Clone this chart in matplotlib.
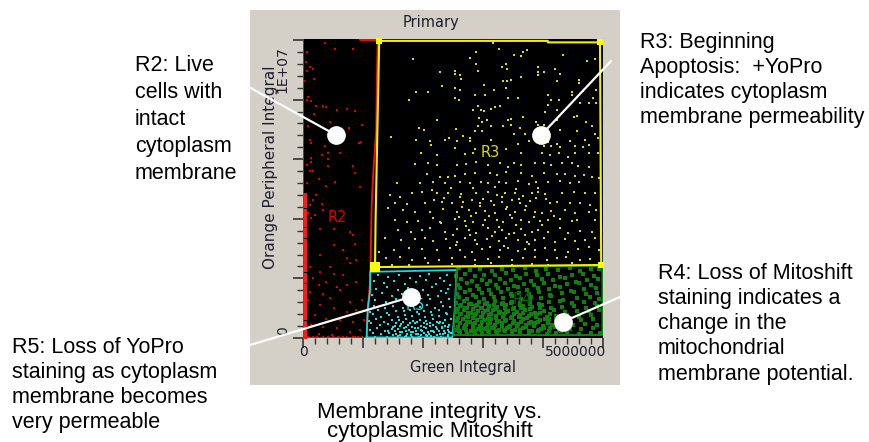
import matplotlib.pyplot as plt
from matplotlib.patches import Rectangle
from matplotlib.ticker import MultipleLocator

plt.rcParams['font.family'] = ['Liberation Sans', 'DejaVu Sans']

# Green Integral in millions (x), Orange Peripheral Integral in millions (y)

# R2 - red gate events
r2_points = [
    (0.37, 9.90), (0.54, 9.71), (0.84, 9.71), (0.07, 9.60), (0.05, 9.26), (0.12, 9.09), (0.16, 9.04),
    (0.06, 8.95), (0.19, 8.70), (0.02, 8.62), (0.09, 8.09), (0.06, 8.00), (0.14, 7.94), (0.22, 7.78),
    (0.34, 7.80), (0.39, 7.75), (0.57, 7.66), (0.74, 7.70), (0.87, 7.61), (0.18, 7.50), (0.99, 7.16),
    (0.45, 7.25), (0.77, 7.05), (0.09, 7.10), (0.12, 6.66), (0.14, 6.55), (0.96, 6.58), (0.94, 6.55),
    (0.37, 6.43), (0.42, 6.21), (0.62, 6.21), (0.31, 6.15), (0.14, 6.04), (0.42, 5.99), (0.14, 5.91),
    (0.06, 5.82), (0.84, 5.76), (0.42, 5.76), (0.12, 5.59), (0.17, 5.59), (0.87, 5.54), (0.26, 5.35),
    (0.53, 5.24), (0.06, 5.20), (0.39, 5.11), (0.95, 5.06),
    (0.22, 4.79), (0.17, 4.63), (0.12, 4.46), (0.31, 4.51), (0.34, 4.29), (0.09, 4.18), (0.20, 4.12),
    (0.14, 4.01), (0.28, 3.65), (0.51, 3.65), (0.78, 3.56), (0.84, 3.47), (0.87, 3.14), (0.51, 3.12),
    (0.67, 2.95), (0.28, 2.78), (0.73, 2.67), (0.89, 2.61), (0.12, 2.39), (0.45, 2.39), (0.78, 2.50),
    (0.28, 2.22), (0.51, 2.16), (0.67, 2.11), (0.17, 2.00), (0.39, 1.89), (0.26, 1.77), (0.56, 1.72),
    (0.73, 1.77), (0.89, 1.89), (0.12, 1.55), (0.34, 1.49), (0.62, 1.61), (0.45, 1.33), (0.78, 1.21),
    (0.98, 1.27), (0.09, 1.27), (0.28, 1.10), (0.51, 0.99), (0.73, 0.88), (0.89, 0.93), (0.20, 0.77),
    (0.39, 0.65), (0.62, 0.60), (0.84, 0.54), (1.01, 0.60), (0.14, 0.43), (0.34, 0.37), (0.56, 0.32),
    (0.78, 0.21), (0.95, 0.26), (0.26, 0.15), (0.48, 0.09), (0.67, 0.04), (0.87, 0.04),
]
# events piled up on the left edge and along the bottom of R2
r2_edge_y = [0.05, 0.18, 0.27, 0.41, 0.52, 0.66, 0.74, 0.88, 1.02, 1.13, 1.29, 1.37, 1.52, 1.66,
             1.74, 1.90, 2.03, 2.12, 2.28, 2.41, 2.50, 2.66, 2.79, 2.87, 3.02, 3.16, 3.25, 3.41,
             3.53, 3.64, 3.80, 3.91, 4.05, 4.18, 4.27, 4.43, 4.56, 4.68, 4.81]
r2_floor_x = [0.08, 0.17, 0.24, 0.33, 0.41, 0.50, 0.58, 0.66, 0.74, 0.83, 0.91, 0.99]

# R3 - yellow gate events
r3_points = [
    (3.17, 9.90), (3.27, 9.70), (2.89, 9.60), (3.74, 9.66), (3.67, 9.60), (3.52, 9.51), (3.64, 9.45),
    (4.34, 9.51), (1.84, 9.37), (2.79, 9.40), (4.87, 9.37), (4.74, 9.31), (2.89, 9.20), (3.39, 9.20),
    (3.32, 9.09), (3.40, 9.04), (3.91, 9.10), (4.20, 9.01), (2.29, 8.92), (2.54, 8.95), (2.54, 8.86),
    (2.62, 8.82), (2.64, 8.70), (2.92, 8.95), (3.92, 8.92), (4.02, 8.92), (3.91, 8.81), (4.29, 8.86),
    (3.64, 8.75), (3.33, 8.62), (3.40, 8.64), (3.46, 8.65), (4.24, 8.62), (4.60, 8.65), (4.60, 8.56),
    (3.01, 8.49), (2.31, 8.45), (2.54, 8.39), (2.61, 8.31), (3.39, 8.39), (1.89, 8.26), (2.09, 8.26),
    (3.19, 8.31), (4.49, 8.26), (4.49, 8.17), (4.67, 8.28), (4.88, 8.31), (4.09, 8.15), (2.87, 8.15),
    (3.03, 8.15), (2.53, 8.06), (2.60, 8.00), (3.42, 8.06), (3.59, 8.06), (1.77, 8.00), (4.13, 8.00),
    (4.26, 8.00), (4.84, 8.06), (4.77, 7.87), (4.88, 7.87), (4.62, 7.87), (2.92, 7.80), (4.09, 7.83),
    (3.20, 7.75), (3.28, 7.80), (2.96, 7.66), (3.14, 7.69), (3.02, 7.61), (2.84, 7.66), (4.23, 7.66),
    (4.03, 7.59), (2.24, 7.31), (2.93, 7.38), (2.98, 7.25), (3.06, 7.31), (3.46, 7.35), (3.41, 7.31),
    (3.67, 7.42), (3.89, 7.25), (4.24, 7.31), (4.51, 7.41), (4.57, 7.46), (4.71, 7.25), (3.14, 7.13),
    (2.92, 7.10), (3.34, 7.10), (3.47, 7.16), (3.91, 7.14), (4.01, 7.14), (1.94, 7.05), (2.02, 6.99),
    (2.55, 7.02), (2.87, 6.94), (2.98, 6.96), (3.62, 7.05), (3.52, 6.85), (3.70, 6.83), (4.28, 6.99),
    (4.56, 6.94), (4.81, 7.10), (4.87, 6.85), (1.47, 6.75), (1.89, 6.66), (2.12, 6.60), (2.37, 6.66),
    (2.43, 6.71), (2.56, 6.62), (2.66, 6.77), (2.78, 6.71), (2.79, 6.60), (3.14, 6.66), (3.59, 6.51),
    (3.76, 6.60), (4.09, 6.58), (4.23, 6.51), (4.45, 6.60), (4.70, 6.66), (4.91, 6.71), (2.14, 6.47),
    (2.53, 6.38), (4.53, 6.43), (4.66, 6.40), (4.76, 6.47), (2.87, 6.34), (3.39, 6.35), (4.02, 6.43),
    (4.13, 6.43), (4.28, 6.40),
    (1.97, 6.20), (2.23, 6.14), (2.70, 6.18), (2.84, 6.22), (3.64, 6.20), (3.98, 6.22), (4.12, 6.14),
    (4.26, 6.22), (4.42, 6.09), (4.53, 6.20), (4.76, 6.20), (4.91, 6.22),
    (2.09, 5.86), (1.87, 5.84), (2.23, 5.81), (2.56, 5.81), (2.71, 5.84), (2.89, 5.92), (3.09, 5.81),
    (3.28, 5.88), (3.41, 5.75), (3.52, 5.86), (3.64, 5.81), (3.86, 5.88), (4.01, 5.86), (4.13, 5.81),
    (4.31, 5.86), (4.48, 5.86), (4.59, 5.77), (4.76, 5.75),
    (2.06, 5.50), (2.28, 5.41), (2.42, 5.39), (2.53, 5.44), (2.70, 5.50), (2.87, 5.53), (3.12, 5.55),
    (3.23, 5.47), (3.39, 5.58), (3.64, 5.53), (3.81, 5.44), (4.01, 5.53), (4.23, 5.50), (4.37, 5.50),
    (4.53, 5.44), (4.69, 5.47), (4.81, 5.41), (4.93, 5.36),
    (1.56, 5.19), (1.95, 5.21), (2.17, 5.25), (2.37, 5.19), (2.62, 5.25), (2.78, 5.19), (2.97, 5.25),
    (3.09, 5.19), (3.26, 5.25), (3.39, 5.19), (3.59, 5.28), (3.76, 5.17), (3.89, 5.22), (4.09, 5.25),
    (4.28, 5.28), (4.45, 5.21), (4.60, 5.22),
    (1.45, 4.80), (1.62, 4.74), (1.81, 4.86), (1.98, 4.91), (2.23, 4.86), (2.42, 4.88), (2.64, 4.83),
    (2.89, 4.86), (3.09, 4.91), (3.23, 4.80), (3.37, 4.88), (3.53, 4.86), (3.67, 4.77), (3.81, 4.86),
    (3.92, 4.91), (4.03, 4.83), (4.31, 4.86), (4.51, 4.91), (4.70, 4.88), (4.87, 4.86),
    (1.54, 4.52), (1.73, 4.50), (2.03, 4.54), (2.19, 4.63), (2.31, 4.58), (2.49, 4.52), (2.67, 4.58),
    (2.81, 4.63), (2.95, 4.54), (3.14, 4.61), (3.31, 4.58), (3.48, 4.63), (3.62, 4.52), (3.78, 4.61),
    (3.89, 4.69), (4.12, 4.52), (4.24, 4.58), (4.45, 4.52), (4.62, 4.54), (4.78, 4.46),
    (1.42, 4.35), (1.67, 4.30), (1.87, 4.24), (2.12, 4.24), (2.34, 4.32), (2.56, 4.24), (2.76, 4.30),
    (2.89, 4.21), (3.03, 4.27), (3.20, 4.18), (3.39, 4.32), (3.53, 4.24), (3.70, 4.30), (3.86, 4.24),
    (3.98, 4.18), (4.14, 4.27), (4.37, 4.30), (4.53, 4.21), (4.76, 4.24), (4.89, 4.30),
    (1.53, 3.96), (1.73, 3.90), (1.92, 3.94), (2.17, 4.02), (2.28, 3.90), (2.53, 3.98), (2.70, 3.94),
    (2.84, 3.90), (3.03, 3.96), (3.23, 3.96), (3.34, 3.90), (3.48, 4.02), (3.64, 3.96), (3.77, 3.90),
    (3.95, 3.94), (4.09, 3.96), (4.28, 3.98), (4.48, 3.94), (4.56, 3.96), (4.87, 3.96),
    (1.59, 3.62), (1.80, 3.57), (1.98, 3.62), (2.12, 3.68), (2.37, 3.57), (2.56, 3.65), (2.76, 3.62),
    (2.89, 3.54), (3.09, 3.68), (3.20, 3.57), (3.31, 3.62), (3.51, 3.54), (3.64, 3.65), (3.81, 3.57),
    (3.92, 3.62), (4.09, 3.57), (4.28, 3.68), (4.42, 3.54), (4.62, 3.60), (4.81, 3.57),
    (1.37, 3.34), (1.64, 3.29), (1.87, 3.31), (2.03, 3.34), (2.17, 3.27), (2.39, 3.31), (2.56, 3.23),
    (2.70, 3.34), (2.87, 3.29), (3.06, 3.31), (3.26, 3.27), (3.39, 3.34), (3.59, 3.29), (3.73, 3.23),
    (3.87, 3.29), (4.01, 3.34), (4.20, 3.23), (4.37, 3.31), (4.53, 3.27), (4.70, 3.29), (4.87, 3.34),
    (1.26, 2.90), (1.51, 2.95), (1.76, 3.01), (1.98, 2.98), (2.23, 2.95), (2.45, 3.01), (2.62, 2.95),
    (2.81, 2.90), (2.98, 2.98), (3.12, 3.04), (3.28, 2.95), (3.42, 3.01), (3.59, 2.93), (3.70, 2.98),
    (3.87, 2.95), (4.03, 3.01), (4.20, 2.95), (4.42, 2.90), (4.59, 2.98), (4.76, 3.07), (4.93, 2.95),
    (1.39, 2.67), (1.62, 2.71), (1.81, 2.62), (2.03, 2.67), (2.26, 2.62), (2.48, 2.67), (2.70, 2.71),
    (2.87, 2.62), (3.09, 2.64), (3.26, 2.71), (3.48, 2.62), (3.67, 2.67), (3.87, 2.71), (4.06, 2.62),
    (4.23, 2.67), (4.39, 2.71), (4.62, 2.62), (4.78, 2.64),
    (1.48, 2.45), (1.76, 2.45), (2.09, 2.51), (2.48, 2.48), (2.87, 2.45), (3.14, 2.51), (3.48, 2.45),
    (3.81, 2.48), (4.09, 2.45), (4.48, 2.51),
    (2.65, 4.40), (2.95, 4.42), (3.18, 4.45), (3.40, 4.40), (3.72, 4.44), (2.60, 4.05), (2.80, 4.10),
    (3.10, 4.08), (3.45, 4.12), (3.85, 4.07), (2.72, 3.76), (3.00, 3.80), (3.26, 3.74), (3.55, 3.78),
    (3.98, 3.80), (2.50, 3.45), (2.78, 3.45), (3.15, 3.42), (3.44, 3.48), (3.70, 3.44), (2.46, 5.05),
    (2.83, 5.02), (3.20, 5.06), (3.55, 5.00), (3.92, 5.04), (2.35, 4.70), (2.62, 4.72), (3.00, 4.68),
    (3.32, 4.72), (3.60, 4.68), (2.55, 3.12), (2.90, 3.15), (3.35, 3.10), (3.76, 3.14), (2.30, 3.85),
    (4.18, 4.10), (4.05, 4.65), (2.15, 4.95),
]

# R5 - cyan gate events
r5_points = [
    (1.25, 2.10), (1.42, 2.05), (1.60, 2.12), (1.78, 2.00), (1.95, 2.08), (2.10, 2.15), (2.28, 2.02),
    (2.40, 2.10), (1.18, 1.90), (1.35, 1.85), (1.52, 1.92), (1.70, 1.80), (1.88, 1.88), (2.05, 1.95),
    (2.22, 1.82), (2.35, 1.90), (2.45, 1.78), (1.22, 1.65), (1.40, 1.70), (1.58, 1.60), (1.75, 1.68),
    (2.00, 1.62), (2.15, 1.70), (2.30, 1.58), (2.42, 1.66), (1.15, 1.45), (1.32, 1.50), (1.48, 1.42),
    (1.65, 1.48), (2.08, 1.45), (2.25, 1.40), (2.38, 1.50), (1.20, 1.28), (1.38, 1.22), (1.55, 1.30),
    (1.72, 1.25), (2.12, 1.30), (2.30, 1.22), (2.44, 1.32),
    (1.18, 1.08), (1.36, 1.02), (1.50, 1.06), (1.66, 1.00), (1.80, 1.09), (1.95, 1.04), (2.06, 1.10),
    (2.20, 1.01), (2.34, 1.07), (2.45, 1.03),
    (1.12, 0.87), (1.25, 0.93), (1.40, 0.85), (1.55, 0.91), (1.68, 0.89), (1.79, 0.95), (1.90, 0.86),
    (2.02, 0.92), (2.14, 0.88), (2.26, 0.94), (2.38, 0.84),
    (1.16, 0.79), (1.30, 0.72), (1.44, 0.76), (1.58, 0.70), (1.70, 0.78), (1.82, 0.74), (1.93, 0.80),
    (2.04, 0.71), (2.15, 0.77), (2.27, 0.73), (2.40, 0.81),
    (1.10, 0.57), (1.22, 0.63), (1.35, 0.55), (1.48, 0.61), (1.60, 0.59), (1.72, 0.65), (1.84, 0.56),
    (1.95, 0.62), (2.05, 0.58), (2.16, 0.64), (2.28, 0.54), (2.37, 0.60), (2.46, 0.63),
    (1.14, 0.49), (1.28, 0.42), (1.42, 0.46), (1.54, 0.40), (1.64, 0.48), (1.75, 0.44), (1.86, 0.50),
    (1.96, 0.41), (2.06, 0.47), (2.17, 0.43), (2.26, 0.51), (2.36, 0.39), (2.44, 0.45),
    (1.12, 0.27), (1.24, 0.33), (1.36, 0.25), (1.48, 0.31), (1.58, 0.29), (1.68, 0.35), (1.77, 0.26),
    (1.87, 0.32), (1.96, 0.28), (2.05, 0.34), (2.14, 0.24), (2.23, 0.30), (2.32, 0.33), (2.41, 0.27),
    (1.16, 0.18), (1.30, 0.13), (1.44, 0.16), (1.55, 0.12), (1.65, 0.19), (1.74, 0.15), (1.83, 0.20),
    (1.92, 0.13), (2.01, 0.17), (2.10, 0.14), (2.19, 0.20), (2.28, 0.12), (2.37, 0.16), (2.46, 0.18),
    (1.20, 0.05), (1.40, 0.03), (1.58, 0.06), (1.70, 0.04), (1.82, 0.05), (1.94, 0.03), (2.06, 0.06),
    (2.18, 0.04), (2.30, 0.05), (2.42, 0.03),
    (1.50, 0.09), (1.62, 0.11), (1.72, 0.08), (1.80, 0.10), (1.88, 0.12), (1.97, 0.09), (2.05, 0.11),
    (2.14, 0.08), (2.23, 0.10), (2.33, 0.12), (2.42, 0.09),
    (1.42, 0.22), (1.53, 0.24), (1.62, 0.21), (1.71, 0.23), (1.80, 0.20), (1.89, 0.22), (1.99, 0.25),
    (2.08, 0.21), (2.17, 0.23), (2.26, 0.22), (2.35, 0.24), (2.44, 0.20),
    (1.50, 0.37), (1.61, 0.39), (1.71, 0.36), (1.81, 0.38), (1.91, 0.35), (2.01, 0.37), (2.11, 0.40),
    (2.21, 0.36), (2.31, 0.38), (2.41, 0.37),
    (1.55, 0.52), (1.67, 0.54), (1.78, 0.51), (1.90, 0.53), (2.01, 0.50), (2.12, 0.52), (2.23, 0.55),
    (2.34, 0.51),
]

# R4 - green gate events
r4_x = [2.60, 2.78, 2.95, 3.15, 3.32, 3.50, 3.70, 3.88, 4.05, 4.25, 4.45, 4.62, 4.80, 4.94,
        2.55, 2.70, 2.86, 3.02, 3.20, 3.38, 3.55, 3.72, 3.90, 4.08, 4.28, 4.48, 4.66, 4.85,
        2.64, 2.82, 2.98, 3.12, 3.28, 3.46, 3.62, 3.80, 3.98, 4.16, 4.36, 4.55, 4.74, 4.92,
        2.58, 2.73, 2.90, 3.06, 3.22, 3.36, 3.52, 3.68, 3.85, 4.02, 4.20, 4.40, 4.60, 4.80,
        2.62, 2.78, 2.94, 3.10, 3.25, 3.42, 3.58, 3.74, 3.92, 4.10, 4.28, 4.46, 4.68, 4.88,
        2.56, 2.70, 2.84, 2.98, 3.14, 3.30, 3.46, 3.60, 3.76, 3.94, 4.12, 4.32, 4.52, 4.72, 4.90,
        2.60, 2.74, 2.88, 3.02, 3.18, 3.33, 3.48, 3.64, 3.80, 3.96, 4.14, 4.34, 4.56, 4.78, 4.94,
        2.55, 2.68, 2.80, 2.93, 3.06, 3.20, 3.34, 3.48, 3.62, 3.78, 3.94, 4.10, 4.28, 4.48, 4.68, 4.86,
        2.62, 2.74, 2.86, 2.98, 3.10, 3.24, 3.38, 3.52, 3.66, 3.82, 3.98, 4.14, 4.32, 4.52, 4.72, 4.90,
        2.57, 2.68, 2.80, 2.92, 3.04, 3.16, 3.28, 3.42, 3.56, 3.70, 3.86, 4.02, 4.18, 4.36, 4.56, 4.76, 4.93,
        2.63, 2.75, 2.86, 2.98, 3.10, 3.22, 3.35, 3.48, 3.62, 3.76, 3.90, 4.06, 4.22, 4.40, 4.60, 4.80,
        2.56, 2.67, 2.78, 2.90, 3.02, 3.14, 3.26, 3.39, 3.52, 3.66, 3.80, 3.95, 4.10, 4.26, 4.44, 4.64, 4.84,
        2.61, 2.72, 2.84, 2.96, 3.08, 3.20, 3.32, 3.45, 3.58, 3.72, 3.86, 4.00, 4.15, 4.32, 4.50, 4.70, 4.90,
        2.57, 2.68, 2.80, 2.91, 3.03, 3.15, 3.27, 3.40, 3.53, 3.67, 3.81, 3.96, 4.11, 4.27, 4.45, 4.64, 4.84,
        2.62, 2.74, 2.86, 2.98, 3.10, 3.23, 3.36, 3.49, 3.62, 3.76, 3.91, 4.06, 4.22, 4.40, 4.60, 4.80, 4.95,
        2.58, 2.70, 2.83, 2.95, 3.07, 3.19, 3.31, 3.44, 3.57, 3.71, 3.85, 4.02, 4.20,
        2.62, 2.74, 2.87, 2.99, 3.12, 3.24, 3.37, 3.50, 3.63, 3.77, 3.92, 4.08, 4.25,
        2.59, 2.71, 2.83, 2.96, 3.08, 3.21, 3.33, 3.46, 3.60, 3.74, 3.88, 4.04, 4.22, 4.45,
        2.62, 2.75, 2.88, 3.00, 3.13, 3.26, 3.39, 3.52, 3.66, 3.80, 3.95, 4.12,
        2.58, 2.70, 2.83, 2.96, 3.09, 3.22, 3.36, 3.50, 3.64, 3.79, 3.95,
        2.63, 2.76, 2.90, 3.04, 3.18, 3.32, 3.47, 3.62, 3.78,
        2.60, 2.72, 2.85, 2.97, 3.09, 3.22, 3.35, 3.48, 3.62, 3.77, 3.93, 4.10, 4.30]
r4_y = [2.34, 2.27, 2.31, 2.25, 2.33, 2.29, 2.35, 2.26, 2.32, 2.28, 2.36, 2.24, 2.30, 2.33,
        2.09, 2.15, 2.07, 2.13, 2.11, 2.17, 2.08, 2.14, 2.10, 2.16, 2.06, 2.12, 2.15, 2.09,
        1.99, 1.92, 1.96, 1.90, 1.98, 1.94, 2.00, 1.91, 1.97, 1.93, 2.01, 1.89, 1.95, 1.98,
        1.77, 1.83, 1.75, 1.81, 1.79, 1.85, 1.76, 1.82, 1.78, 1.84, 1.74, 1.80, 1.83, 1.77,
        1.69, 1.62, 1.66, 1.60, 1.68, 1.64, 1.70, 1.61, 1.67, 1.63, 1.71, 1.59, 1.65, 1.68,
        1.47, 1.53, 1.45, 1.51, 1.49, 1.55, 1.46, 1.52, 1.48, 1.54, 1.44, 1.50, 1.53, 1.47, 1.51,
        1.39, 1.32, 1.36, 1.30, 1.38, 1.34, 1.40, 1.31, 1.37, 1.33, 1.41, 1.29, 1.35, 1.38, 1.32,
        1.17, 1.23, 1.15, 1.21, 1.19, 1.25, 1.16, 1.22, 1.18, 1.24, 1.14, 1.20, 1.23, 1.17, 1.21, 1.19,
        1.09, 1.02, 1.06, 1.00, 1.08, 1.04, 1.10, 1.01, 1.07, 1.03, 1.11, 0.99, 1.05, 1.08, 1.02, 1.06,
        0.87, 0.93, 0.85, 0.91, 0.89, 0.95, 0.86, 0.92, 0.88, 0.94, 0.84, 0.90, 0.93, 0.87, 0.91, 0.89, 0.95,
        0.79, 0.72, 0.76, 0.70, 0.78, 0.74, 0.80, 0.71, 0.77, 0.73, 0.81, 0.69, 0.75, 0.78, 0.72, 0.76,
        0.57, 0.63, 0.55, 0.61, 0.59, 0.65, 0.56, 0.62, 0.58, 0.64, 0.54, 0.60, 0.63, 0.57, 0.61, 0.59, 0.65,
        0.49, 0.42, 0.46, 0.40, 0.48, 0.44, 0.50, 0.41, 0.47, 0.43, 0.51, 0.39, 0.45, 0.48, 0.42, 0.46, 0.44,
        0.27, 0.33, 0.25, 0.31, 0.29, 0.35, 0.26, 0.32, 0.28, 0.34, 0.24, 0.30, 0.33, 0.27, 0.31, 0.29, 0.35,
        0.20, 0.15, 0.18, 0.14, 0.21, 0.17, 0.22, 0.15, 0.19, 0.16, 0.22, 0.14, 0.18, 0.20, 0.15, 0.18, 0.16,
        0.37, 0.40, 0.36, 0.39, 0.35, 0.38, 0.41, 0.36, 0.39, 0.37, 0.40, 0.35, 0.38,
        0.52, 0.55, 0.51, 0.54, 0.50, 0.53, 0.56, 0.51, 0.54, 0.52, 0.55, 0.50, 0.53,
        0.67, 0.70, 0.66, 0.69, 0.65, 0.68, 0.71, 0.66, 0.69, 0.67, 0.70, 0.65, 0.68, 0.66,
        0.82, 0.85, 0.81, 0.84, 0.80, 0.83, 0.86, 0.81, 0.84, 0.82, 0.85, 0.80,
        0.97, 1.00, 0.96, 0.99, 0.95, 0.98, 1.01, 0.96, 0.99, 0.97, 1.00,
        1.12, 1.15, 1.11, 1.14, 1.10, 1.13, 1.16, 1.11, 1.14,
        0.24, 0.27, 0.23, 0.26, 0.22, 0.25, 0.28, 0.23, 0.26, 0.24, 0.27, 0.22, 0.25]

# gate outlines
gate_r2 = [(1.06, 0), (0, 0), (0, 10.3), (0.93, 10.3), (0.95, 10.0), (1.245, 10.0), (1.23, 8.5),
           (1.22, 6.98), (1.17, 5.5), (1.145, 4.46), (1.12, 1.95), (1.08, 1.0), (1.06, 0)]
gate_r3 = [(1.20, 2.38), (1.21, 4.0), (1.23, 6.0), (1.25, 8.0), (1.27, 9.97), (4.08, 9.97),
           (4.08, 9.92), (4.95, 9.92), (4.97, 2.45), (1.20, 2.38)]
gate_r5 = [(1.06, 0.02), (1.08, 1.0), (1.12, 1.6), (1.12, 2.22), (2.56, 2.28), (2.53, 1.0),
           (2.49, 0.02), (1.06, 0.02)]
gate_r4 = [(2.51, 0.1), (2.57, 2.39), (4.99, 2.42), (4.99, 0.1), (2.51, 0.1)]
r3_handles = [(1.27, 9.97), (4.95, 9.93), (4.97, 2.45)]
r3_active_handle = (1.20, 2.38)

# callouts: circle position (data) and line start (figure pixels)
callout_points = [(0.55, 6.81), (3.97, 6.81), (1.80, 1.38), (4.33, 0.54)]
callout_starts = [(247, 356), (611, 381), (250, 97), (620, 145)]

W, H = 869, 442
fig = plt.figure(figsize=(W / 100, H / 100), dpi=100)
fig.patch.set_facecolor('white')

# grey window panel behind the plot
fig.patches.append(Rectangle((250 / W, 1 - 385 / H), 370 / W, 375 / H, transform=fig.transFigure,
                             facecolor='#d4d0c8', edgecolor='none', zorder=-5))

ax = fig.add_axes([303 / W, 1 - 338 / H, 300 / W, 299.5 / H])
ax.set_zorder(2)
ax.set_facecolor('black')
ax.set_xlim(0, 5)
ax.set_ylim(0, 10.05)
for s in ax.spines.values():
    s.set_visible(False)

ms = 1.8
ax.plot([p[0] for p in r2_points], [p[1] for p in r2_points], 's', color='#e00000', ms=ms, mew=0)
ax.plot([0.03] * len(r2_edge_y), r2_edge_y, 's', color='#ff1a1a', ms=2.6, mew=0)
ax.plot(r2_floor_x, [0.05] * len(r2_floor_x), 's', color='#e00000', ms=ms, mew=0)
ax.plot([p[0] for p in r3_points], [p[1] for p in r3_points], 's', color='#dede00', ms=1.9, mew=0)
ax.plot(r4_x, r4_y, 's', color='#0f800f', ms=2.4, mew=0)
ax.plot([p[0] for p in r5_points], [p[1] for p in r5_points], 's', color='#14e8e8', ms=2.1, mew=0)

ax.plot(*zip(*gate_r2), color='#ff1010', lw=1.3)
ax.plot(*zip(*gate_r5), color='#16dada', lw=1.3)
ax.plot(*zip(*gate_r4), color='#118811', lw=1.3)
ax.plot(*zip(*gate_r3), color='#f2f200', lw=1.5)
ax.plot(*zip(*r3_handles), 's', color='#ffff00', ms=4, mew=0, clip_on=False)
ax.plot(*r3_active_handle, 's', color='#ffff00', ms=6.5, mew=0, clip_on=False)

# gate names
ax.text(0.58, 4.06, 'R2', color='#e00000', fontsize=10.5, ha='center', va='center', family='DejaVu Sans')
ax.text(3.12, 6.24, 'R3', color='#dede00', fontsize=10.5, ha='center', va='center', family='DejaVu Sans')
ax.text(3.65, 1.28, 'R4', color='#0c5c0c', fontsize=10.5, ha='center', va='center', family='DejaVu Sans')
ax.text(1.87, 1.10, 'R5', color='#14e8e8', fontsize=10.5, ha='center', va='center', family='DejaVu Sans')

# ticks
ax.xaxis.set_major_locator(MultipleLocator(1))
ax.xaxis.set_minor_locator(MultipleLocator(0.2))
ax.yaxis.set_major_locator(MultipleLocator(2))
ax.yaxis.set_minor_locator(MultipleLocator(0.4))
ax.tick_params(which='major', direction='out', length=7, width=1.2, color='#333333',
               labelbottom=False, labelleft=False)
ax.tick_params(which='minor', direction='out', length=4, width=1.0, color='#333333')

# axis texts
tc = '#1e1e2e'
pf = 'DejaVu Sans'
ax.text(0.427, 1.055, 'Primary', transform=ax.transAxes, ha='center', va='center', fontsize=10.5, color=tc, family=pf)
ax.text(0.533, -0.1, 'Green Integral', transform=ax.transAxes, ha='center', va='center', fontsize=10.5, color=tc, family=pf)
ax.text(-0.11, 0.571, 'Orange Peripheral Integral', transform=ax.transAxes, rotation=90,
        ha='center', va='center', fontsize=11, color=tc, family=pf)
ax.text(0.0, -0.047, '0', transform=ax.transAxes, ha='center', va='center', fontsize=10, color=tc, family=pf)
ax.text(0.91, -0.047, '5000000', transform=ax.transAxes, ha='center', va='center', fontsize=10, color=tc, family=pf)
ax.text(-0.067, 0.895, '1E+07', transform=ax.transAxes, rotation=90, ha='center', va='center', fontsize=10, color=tc, family=pf)
ax.text(-0.067, 0.023, '0', transform=ax.transAxes, rotation=90, ha='center', va='center', fontsize=10, color=tc, family=pf)

# white callout lines and dots
for (cx, cy), start in zip(callout_points, callout_starts):
    ax.annotate('', xy=(cx, cy), xycoords='data', xytext=start, textcoords='figure pixels',
                arrowprops=dict(arrowstyle='-', color='white', lw=1.6, shrinkA=0, shrinkB=0),
                annotation_clip=False, zorder=8)
    ax.plot(cx, cy, 'o', color='white', ms=13.5, mew=0, zorder=9, clip_on=False)

# descriptions
fs = 15.5
ls = 1.26
fig.text(135 / W, 1 - 55 / H, 'R2: Live\ncells with\nintact\ncytoplasm\nmembrane', fontsize=fs,
         va='top', ha='left', linespacing=1.37)
fig.text(640 / W, 1 - 32 / H, 'R3: Beginning\nApoptosis:  +YoPro\nindicates cytoplasm\nmembrane permeability',
         fontsize=fs, va='top', ha='left', linespacing=ls)
fig.text(658 / W, 1 - 263 / H, 'R4: Loss of Mitoshift\nstaining indicates a\nchange in the\nmitochondrial\nmembrane potential.',
         fontsize=fs, va='top', ha='left', linespacing=ls)
fig.text(12 / W, 1 - 337 / H, 'R5: Loss of YoPro\nstaining as cytoplasm\nmembrane becomes\nvery permeable',
         fontsize=fs, va='top', ha='left', linespacing=ls)
fig.text(430 / W, 1 - 402 / H, 'Membrane integrity vs.\ncytoplasmic Mitoshift', fontsize=16,
         va='top', ha='center', linespacing=0.89)

fig.savefig('out.png', dpi=100, facecolor='white')
